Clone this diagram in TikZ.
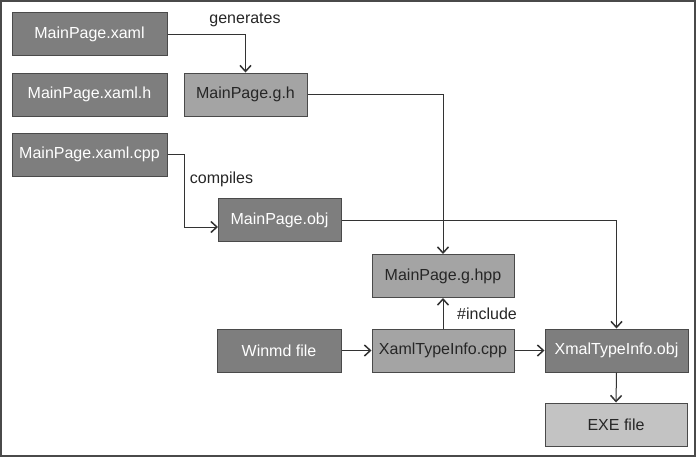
\documentclass[tikz,border=0pt]{standalone}
\usepackage{fontspec}
\setmainfont{Liberation Sans}
\usetikzlibrary{arrows.meta}
\definecolor{darkbox}{HTML}{7E7E7E}
\definecolor{midbox}{HTML}{A4A4A4}
\definecolor{lightbox}{HTML}{C3C3C3}
\definecolor{edgec}{HTML}{4A4A4A}
\definecolor{linec}{HTML}{333333}
\begin{document}
\begin{tikzpicture}[x=1pt,y=-1pt,
  fbox/.style={draw=edgec,line width=1pt,minimum height=43pt,inner sep=0pt,font=\fontsize{16}{18}\selectfont},
  dbox/.style={fbox,fill=darkbox,text=white},
  mbox/.style={fbox,fill=midbox,text=black!85},
  lbox/.style={fbox,fill=lightbox,text=black!85},
  arr/.style={draw=linec,line width=1pt,line join=miter,-{Straight Barb[length=6pt,width=11pt,line width=1.5pt]}},
  lbl/.style={font=\fontsize{16}{18}\selectfont,text=black!85,inner sep=0pt}]
\useasboundingbox (0,0) rectangle (700,459);
\draw[edgec,line width=1.2pt] (1,1) rectangle (695,456);
\node[dbox,minimum width=155pt] (xaml) at (89.5,34) {MainPage.xaml};
\node[dbox,minimum width=155pt] (xamlh) at (89.5,94.5) {MainPage.xaml.h};
\node[mbox,minimum width=123pt] (gh) at (245.5,94.5) {MainPage.g.h};
\node[dbox,minimum width=155pt] (xamlcpp) at (89.5,154.5) {MainPage.xaml.cpp};
\node[dbox,minimum width=123pt] (obj) at (279.5,220) {MainPage.obj};
\node[mbox,minimum width=142pt] (hpp) at (443,276) {MainPage.g.hpp};
\node[dbox,minimum width=124pt] (winmd) at (279,350.5) {Winmd file};
\node[mbox,minimum width=142pt] (xtcpp) at (443,350.5) {XamlTypeInfo.cpp};
\node[dbox,minimum width=143pt] (xtobj) at (616.5,350.5) {XmalTypeInfo.obj};
\node[lbox,minimum width=142pt] (exe) at (616,424.5) {EXE file};
\node[lbl] (gen) at (245,20) {generates};
\node[lbl] (comp) at (221.5,179) {compiles};
\node[lbl] (inc) at (487,314) {\#include};
\coordinate (c1) at (184,154.5);
\coordinate (c2) at (184,227);
\coordinate (c3) at (218,227);
\draw[arr] (xaml.east) -| (gh.north);
\draw[arr] (gh.east) -| (hpp.north);
\draw[arr] (xamlcpp.east) -- (c1) -- (c2) -- (c3);
\draw[arr] (obj.east) -| (xtobj.north);
\draw[arr] (xtcpp.north) -- (hpp.south);
\draw[arr] (winmd.east) -- (xtcpp.west);
\draw[arr] (xtcpp.east) -- (xtobj.west);
\draw[arr] (xtobj.south) -- (exe.north);
\end{tikzpicture}
\end{document}
